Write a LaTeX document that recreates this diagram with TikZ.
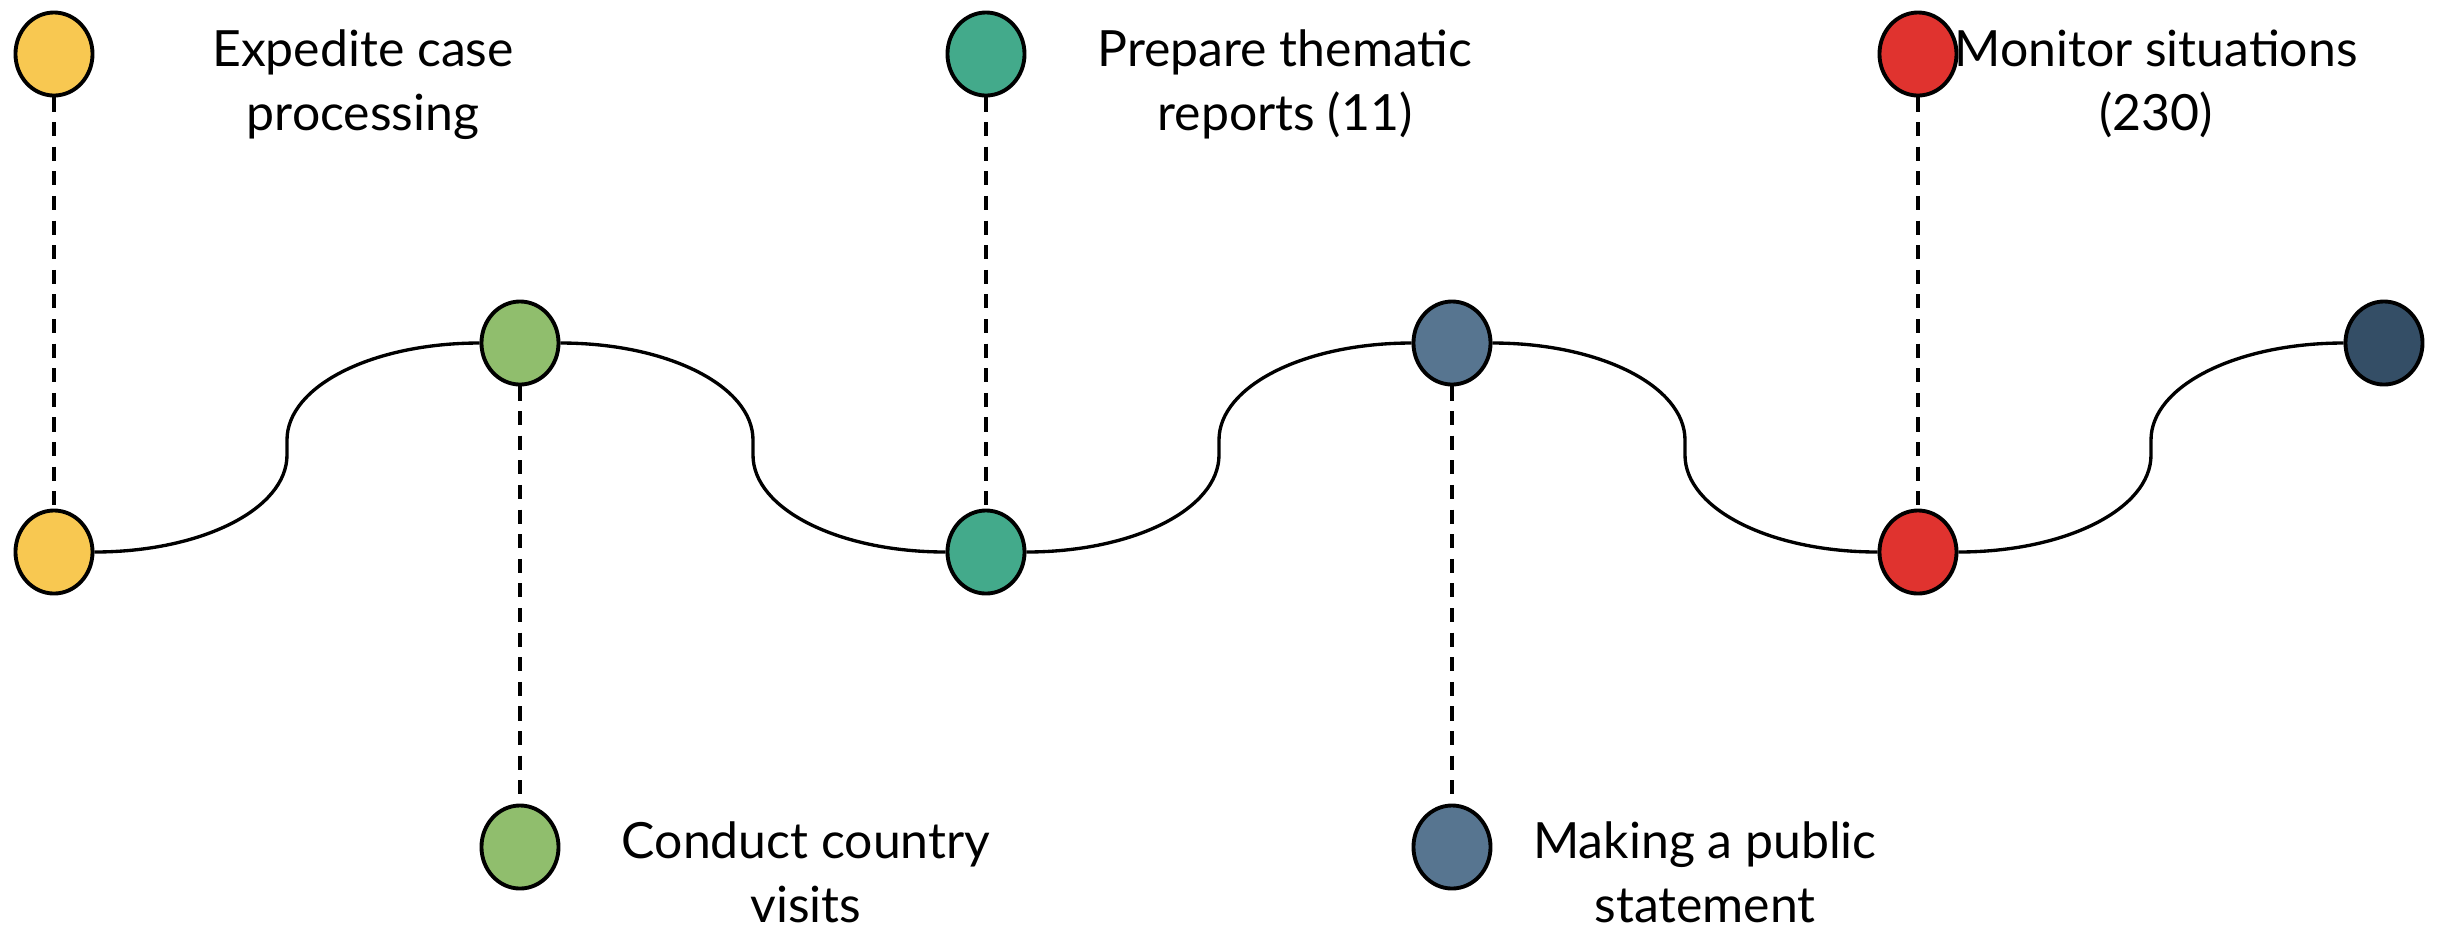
\documentclass[tikz,border=0pt]{standalone}
\usepackage{fontspec}
\setmainfont{Lato}
\usetikzlibrary{shapes.geometric,calc}

\definecolor{cyellow}{HTML}{F8C851}
\definecolor{cgreen}{HTML}{90BE6D}
\definecolor{cteal}{HTML}{43AA8B}
\definecolor{cblue}{HTML}{577590}
\definecolor{cred}{HTML}{E0332F}
\definecolor{cdark}{HTML}{344E66}

\tikzset{
    dot/.style={ellipse, draw, line width=1.1pt, minimum width=0.77cm, minimum height=0.83cm, inner sep=0pt},
    wave/.style={line width=0.95pt},
    stem/.style={line width=0.95pt, dash pattern=on 4pt off 3pt},
    lbl/.style={align=center, anchor=base, inner sep=0pt, font=\fontsize{14.2}{18}\selectfont}
}

\begin{document}
\begin{tikzpicture}[x=0.01cm, y=-0.01cm]
    \useasboundingbox (0,0) rectangle (2447,932);

    % Точки на волне
    \node[dot, fill=cyellow] (y1) at (54,552) {};
    \node[dot, fill=cgreen]  (g1) at (520,343) {};
    \node[dot, fill=cteal]   (t1) at (986,552) {};
    \node[dot, fill=cblue]   (b1) at (1452,343) {};
    \node[dot, fill=cred]    (r1) at (1918,552) {};
    \node[dot, fill=cdark]   (d1) at (2384,343) {};

    % Точки у подписей
    \node[dot, fill=cyellow] (y0) at (54,54) {};
    \node[dot, fill=cgreen]  (g0) at (520,847) {};
    \node[dot, fill=cteal]   (t0) at (986,54) {};
    \node[dot, fill=cblue]   (b0) at (1452,847) {};
    \node[dot, fill=cred]    (r0) at (1918,54) {};

    % Волна
    \foreach \a/\b/\s in {y1/g1/1, g1/t1/-1, t1/b1/1, b1/r1/-1, r1/d1/1}
    {
        \pgfmathsetmacro{\dy}{7.5*\s}
        \pgfmathsetmacro{\ndy}{-7.5*\s}
        \pgfmathsetmacro{\cy}{54*\s}
        \pgfmathsetmacro{\ncy}{-54*\s}
        \draw[wave] (\a.east) .. controls +(107,0) and +(0,\cy) .. ($(\a.east)!0.5!(\b.west)+(0,\dy)$)
            -- ($(\a.east)!0.5!(\b.west)+(0,\ndy)$) .. controls +(0,\ncy) and +(-107,0) .. (\b.west);
    }

    % Пунктирные линии
    \foreach \a/\b in {y0/y1, g1/g0, t0/t1, b1/b0, r0/r1}
        \draw[stem] (\a.south) -- (\b.north);

    % Подписи
    \node[lbl] (ly) at (363,130) {Expedite case\\processing};
    \node[lbl] (lt) at (1285,130) {Prepare thematic\\reports (11)};
    \node[lbl] (lr) at (2156,130) {Monitor situations\\(230)};
    \node[lbl] (lg) at (806,922) {Conduct country\\visits};
    \node[lbl] (lb) at (1705,922) {Making a public\\statement};
\end{tikzpicture}
\end{document}
